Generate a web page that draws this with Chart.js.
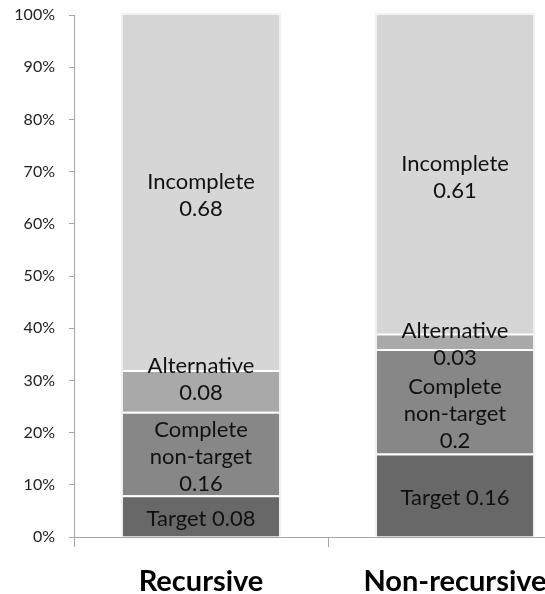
<!DOCTYPE html>
<html>
<head>
<meta charset="utf-8">
<script src="https://cdn.jsdelivr.net/npm/chart.js@4/dist/chart.umd.min.js"></script>
<style>
  html, body { margin: 0; padding: 0; background: #fff; overflow: hidden; }
  #wrap { position: relative; width: 545px; height: 594px; overflow: hidden; }
</style>
</head>
<body>
<div id="wrap"><canvas id="c" width="600" height="594"></canvas></div>
<script>
// Categories along the x axis
const categories = ['Recursive', 'Non-recursive'];

// Stacked series (proportions, bottom to top)
const seriesNames = ['Target', 'Complete non-target', 'Alternative', 'Incomplete'];
const target = [0.08, 0.16];
const completeNonTarget = [0.16, 0.20];
const alternative = [0.08, 0.03];
const incomplete = [0.68, 0.61];

// Text lines written inside each segment; {v} is replaced by the value
const segmentText = [
  ['Target {v}'],
  ['Complete', 'non-target', '{v}'],
  ['Alternative', '{v}'],
  ['Incomplete', '{v}']
];

// Y axis tick values
const yTicks = [0, 0.1, 0.2, 0.3, 0.4, 0.5, 0.6, 0.7, 0.8, 0.9, 1.0];

const fills = ['#686868', '#878787', '#a9a9a9', '#d6d6d6'];
const values = [target, completeNonTarget, alternative, incomplete];

const FONT = 'Lato, "Open Sans", sans-serif';

const datasets = seriesNames.map((name, i) => ({
  label: name,
  data: values[i],
  backgroundColor: fills[i],
  borderColor: '#ffffff',
  borderWidth: i === values.length - 1 ? 0 : { top: 2, left: 0, right: 0, bottom: 0 },
  borderSkipped: false,
  barPercentage: 0.615,
  categoryPercentage: 1.0
}));

// Soft pale outline behind each whole column
const columnHalo = {
  id: 'columnHalo',
  beforeDatasetsDraw(chart) {
    const ctx = chart.ctx;
    const n = chart.data.datasets.length;
    const first = chart.getDatasetMeta(0).data;
    const last = chart.getDatasetMeta(n - 1).data;
    ctx.save();
    first.forEach((bar, idx) => {
      const top = last[idx].y;
      const bottom = bar.base;
      const left = bar.x - bar.width / 2;
      ctx.fillStyle = '#f1f1f1';
      ctx.fillRect(left - 2, top - 2, bar.width + 4, bottom - top + 2);
    });
    ctx.restore();
  }
};

// Writes the series name and value centred on every bar segment
const segmentLabels = {
  id: 'segmentLabels',
  afterDatasetsDraw(chart, args, opts) {
    const ctx = chart.ctx;
    ctx.save();
    ctx.font = opts.size + 'px ' + FONT;
    ctx.fillStyle = opts.color;
    ctx.textAlign = 'center';
    ctx.textBaseline = 'middle';
    chart.data.datasets.forEach((ds, di) => {
      const meta = chart.getDatasetMeta(di);
      meta.data.forEach((bar, idx) => {
        const v = ds.data[idx];
        const lines = segmentText[di].map(t => t.replace('{v}', String(v)));
        const nudge = (opts.nudge[di] && opts.nudge[di][idx]) || 0;
        const cy = (bar.y + bar.base) / 2 + nudge + opts.shift;
        const start = cy - (lines.length - 1) * opts.lineHeight / 2;
        lines.forEach((ln, k) => ctx.fillText(ln, bar.x, start + k * opts.lineHeight));
      });
    });
    ctx.restore();
  }
};

new Chart(document.getElementById('c'), {
  type: 'bar',
  data: { labels: categories, datasets },
  plugins: [columnHalo, segmentLabels],
  options: {
    responsive: false,
    animation: false,
    layout: { padding: { top: 15, right: 18, left: 0, bottom: 0 } },
    plugins: {
      legend: { display: false },
      tooltip: { enabled: false },
      segmentLabels: {
        size: 22,
        lineHeight: 27,
        shift: 3,
        color: '#111111',
        nudge: { 1: [0, 10], 2: [-14, 0] }
      }
    },
    scales: {
      x: {
        stacked: true,
        offset: true,
        border: { color: '#a6a6a6', width: 1 },
        grid: { offset: true, drawOnChartArea: false, color: '#a6a6a6', tickLength: 10 },
        ticks: {
          color: '#000',
          padding: 17,
          font: { family: FONT, size: 29, weight: 'bold' }
        },
        afterFit(scale) { scale.height = 57; }
      },
      y: {
        stacked: true,
        min: 0,
        max: 1,
        border: { color: '#a6a6a6', width: 1 },
        grid: { drawOnChartArea: false, color: '#a6a6a6', tickLength: 5 },
        afterBuildTicks(scale) { scale.ticks = yTicks.map(v => ({ value: v })); },
        ticks: {
          color: '#222',
          padding: 14,
          font: { family: FONT, size: 16 },
          callback: v => Math.round(v * 100) + '%'
        },
        afterFit(scale) {
          scale.width = 74;
          scale.paddingTop = 0;
          scale.paddingBottom = 0;
        }
      }
    }
  }
});
</script>
</body>
</html>
